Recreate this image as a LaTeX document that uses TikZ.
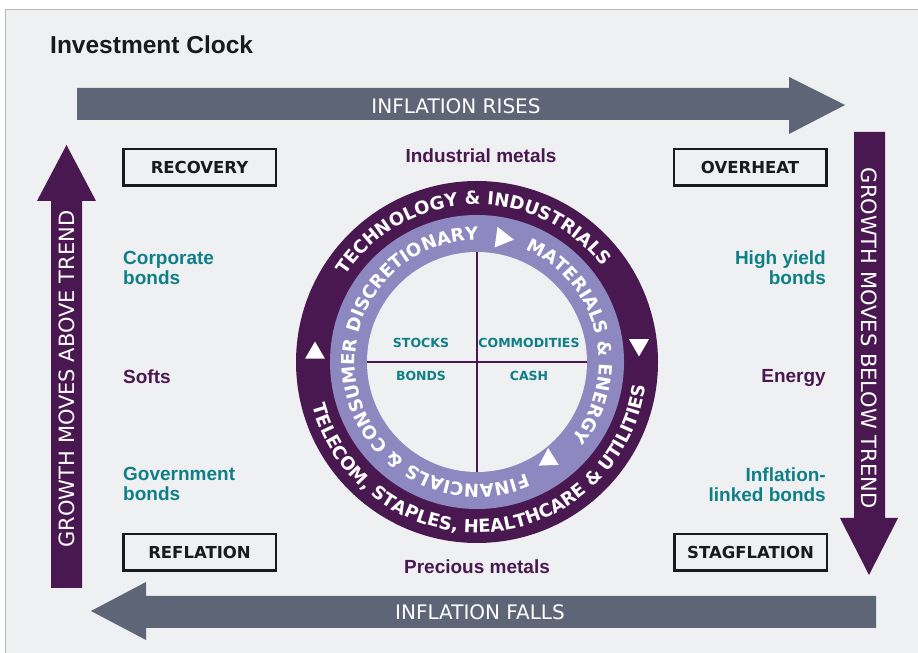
\documentclass[tikz,border=0pt]{standalone}
\usepackage{fontspec}
\usetikzlibrary{decorations.text}
\newfontfamily\djsans{DejaVu Sans}
\newfontfamily\libsans{Liberation Sans}
\definecolor{panel}{HTML}{EFF0F2}
\definecolor{panelline}{HTML}{B9B9B9}
\definecolor{slate}{HTML}{5D6577}
\definecolor{plum}{HTML}{4A1850}
\definecolor{lilac}{HTML}{8D88C0}
\definecolor{tealtxt}{HTML}{0F7F87}
\definecolor{ink}{HTML}{1A1A1A}
\begin{document}
\begin{tikzpicture}[x=1pt,y=1pt,
  phasebox/.style={draw=ink, line width=2.5pt, minimum width=152.5pt, minimum height=36.5pt, inner sep=0pt, font=\djsans\bfseries\fontsize{16.5}{16.5}\selectfont, text=ink},
  asset/.style={font=\libsans\bfseries\fontsize{19}{20}\selectfont, inner sep=0pt},
  bondlbl/.style={asset, text=tealtxt},
  commlbl/.style={asset, text=plum},
  arrowlbl/.style={font=\djsans\fontsize{20}{20}\selectfont, text=white, inner sep=0pt},
  vertlbl/.style={font=\djsans\fontsize{21}{21}\selectfont, text=white, inner sep=0pt},
  quad/.style={font=\djsans\bfseries\fontsize{12.5}{12.5}\selectfont, text=tealtxt, inner sep=0pt},
  ringtext/.style={decorate, decoration={text along path, text align=center, text color=white, text={|\djsans\bfseries\fontsize{18}{18}\selectfont|#1}}},
  marker/.style={fill=white}
]
\useasboundingbox (0,0) rectangle (918,653);
\fill[white] (0,0) rectangle (918,653);
\fill[panel] (5,0) rectangle (918,643);
\draw[panelline, line width=1pt] (5,0) -- (5,643) -- (918,643);

% title
\node[anchor=base west, inner sep=0pt, font=\libsans\bfseries\fontsize{24.5}{24.5}\selectfont, text=ink] (title) at (50,599) {Investment Clock};

% big arrows
\fill[slate] (77,533) -- (789,533) -- (789,519) -- (845,548) -- (789,576) -- (789,565) -- (77,565) -- cycle;
\fill[plum] (854,521) -- (885,521) -- (885,135) -- (898,135) -- (869,78) -- (840,135) -- (854,135) -- cycle;
\fill[slate] (876,57) -- (146,57) -- (146,71) -- (91,42) -- (146,13) -- (146,25) -- (876,25) -- cycle;
\fill[plum] (51,65) -- (82,65) -- (82,452) -- (96,452) -- (66.5,508) -- (37,452) -- (51,452) -- cycle;

\node[arrowlbl] (infrise) at (456,547) {INFLATION RISES};
\node[arrowlbl] (inffall) at (480,41) {INFLATION FALLS};
\node[vertlbl, rotate=-90] (growbelow) at (869.5,315) {GROWTH MOVES BELOW TREND};
\node[vertlbl, rotate=90] (growabove) at (66.5,274) {GROWTH MOVES ABOVE TREND};

% phase boxes
\node[phasebox] (recovery) at (199.5,485.5) {RECOVERY};
\node[phasebox] (overheat) at (750,485.5) {OVERHEAT};
\node[phasebox] (reflation) at (199.5,100.5) {REFLATION};
\node[phasebox] (stagflation) at (750.5,100.5) {STAGFLATION};

% asset labels (base = baseline of last line)
\node[commlbl, anchor=base] (indmet) at (481,490) {Industrial metals};
\node[commlbl, anchor=base] (premet) at (477,79) {Precious metals};
\node[bondlbl, anchor=base west, align=left] (corp) at (123,368) {Corporate\\bonds};
\node[commlbl, anchor=base west] (softs) at (123,269) {Softs};
\node[bondlbl, anchor=base west, align=left] (govt) at (123,152) {Government\\bonds};
\node[bondlbl, anchor=base east, align=right] (hy) at (826,368) {High yield\\bonds};
\node[commlbl, anchor=base east] (energy) at (826,270) {Energy};
\node[bondlbl, anchor=base east, align=right] (ilb) at (826,151) {Inflation-\\linked bonds};

% clock
\fill[plum] (477,291) circle (181);
\fill[lilac] (477,291) circle (147);
\fill[panel] (477,291) circle (110);
\draw[plum, line width=2pt] (367,291) -- (587,291);
\draw[plum, line width=2pt] (477,181) -- (477,401);

\node[quad] (stocks) at (421,310) {STOCKS};
\node[quad] (commod) at (529,310) {COMMODITIES};
\node[quad] (bonds) at (421,277) {BONDS};
\node[quad] (cash) at (529,277) {CASH};

\path[shift={(477,291)}, ringtext={TECHNOLOGY {\&} INDUSTRIALS}] (160:157.5) arc[start angle=160, end angle=24, radius=157.5];
\path[shift={(477,291)}, ringtext={TELECOM, STAPLES, HEALTHCARE {\&} UTILITIES}] (178:170.5) arc[start angle=178, end angle=369, radius=170.5];
\path[shift={(477,291)}, ringtext={FINANCIALS {\&} CONSUMER DISCRETIONARY}] (305:122) arc[start angle=305, end angle=78, radius=122];
\path[shift={(477,291)}, ringtext={MATERIALS {\&} ENERGY}] (75:122) arc[start angle=75, end angle=-47, radius=122];

% direction markers
\fill[marker, shift={(315,300)}, rotate=90] (0:11.5) -- (120:11.5) -- (240:11.5) -- cycle;
\fill[marker, shift={(639,308)}, rotate=-90] (0:11.5) -- (120:11.5) -- (240:11.5) -- cycle;
\fill[marker, shift={(502,415)}, rotate=-8] (0:12) -- (120:12) -- (240:12) -- cycle;
\fill[marker, shift={(548.5,193.5)}, rotate=92] (0:11.5) -- (120:11.5) -- (240:11.5) -- cycle;
\end{tikzpicture}
\end{document}
